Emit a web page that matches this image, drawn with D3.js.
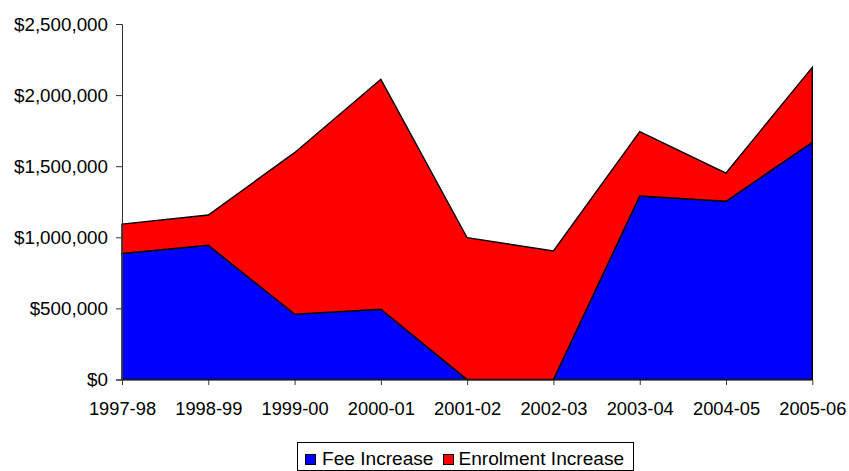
<!DOCTYPE html>
<html>
<head>
<meta charset="utf-8">
<script src="https://cdn.jsdelivr.net/npm/d3@7"></script>
<style>
  html, body { margin: 0; padding: 0; background: #fff; }
  svg { display: block; font-family: "Liberation Sans", Arial, sans-serif; }
</style>
</head>
<body>
<svg id="chart" width="849" height="471"></svg>
<script>
// Funding increase by year, split into fee and enrolment components
const years = ["1997-98", "1998-99", "1999-00", "2000-01", "2001-02", "2002-03", "2003-04", "2004-05", "2005-06"];
const feeIncrease = [887000, 944000, 460000, 494000, 0, 0, 1290000, 1253000, 1668000];
const enrolmentIncrease = [206000, 213000, 1135000, 1617000, 997000, 904000, 453000, 199000, 527000];
const seriesNames = ["Fee Increase", "Enrolment Increase"];
const seriesColors = ["#0000ff", "#ff0000"];
const yTicks = [0, 500000, 1000000, 1500000, 2000000, 2500000];

const svg = d3.select("#chart");

const rows = years.map((y, i) => ({ year: y, "Fee Increase": feeIncrease[i], "Enrolment Increase": enrolmentIncrease[i] }));
const stacked = d3.stack().keys(seriesNames)(rows);

const x = d3.scalePoint().domain(years).range([122, 812.3]);
const y = d3.scaleLinear().domain([0, 2500000]).range([379.5, 24]);

const area = d3.area()
  .x(d => x(d.data.year))
  .y0(d => y(d[0]))
  .y1(d => y(d[1]));

svg.append("g").selectAll("path")
  .data(stacked)
  .join("path")
  .attr("d", area)
  .attr("fill", (d, i) => seriesColors[i])
  .attr("stroke", "#000")
  .attr("stroke-width", 1.4)
  .attr("stroke-linejoin", "miter");

const fmt = v => "$" + d3.format(",")(v);

// Y axis
const yAxis = svg.append("g")
  .attr("transform", "translate(122,0)")
  .call(d3.axisLeft(y).tickValues(yTicks).tickFormat(fmt).tickSize(6).tickPadding(8));
yAxis.select(".domain").attr("stroke", "#333").attr("stroke-width", 1);
yAxis.selectAll(".tick line").attr("stroke", "#333");
yAxis.selectAll("text").attr("font-size", 18.8).attr("fill", "#000")
  .attr("font-family", "Liberation Sans, Arial, sans-serif");

// X axis
const xAxis = svg.append("g")
  .attr("transform", "translate(0,380)")
  .call(d3.axisBottom(x).tickSize(5).tickPadding(0));
xAxis.select(".domain").attr("stroke", "#333").attr("stroke-width", 1).attr("d", "M122,0H812.3");
xAxis.selectAll(".tick line").attr("stroke", "#333");
xAxis.selectAll("text")
  .attr("y", 34.5).attr("dy", null)
  .attr("font-size", 18.3).attr("fill", "#000")
  .attr("font-family", "Liberation Sans, Arial, sans-serif");

// Legend
const legend = svg.append("g");
legend.append("rect")
  .attr("x", 297.5).attr("y", 442.5).attr("width", 336).attr("height", 28)
  .attr("fill", "#fff").attr("stroke", "#000").attr("stroke-width", 1);
const legendItems = [
  { name: seriesNames[0], color: seriesColors[0], sx: 305, tx: 322 },
  { name: seriesNames[1], color: seriesColors[1], sx: 443, tx: 458.5 }
];
legendItems.forEach(it => {
  legend.append("rect")
    .attr("x", it.sx + 0.5).attr("y", 454.5).attr("width", 10).attr("height", 10)
    .attr("fill", it.color).attr("stroke", "#000").attr("stroke-width", 1);
  legend.append("text")
    .attr("x", it.tx).attr("y", 464.5)
    .attr("font-size", 19.1).attr("fill", "#000")
    .text(it.name);
});
</script>
</body>
</html>
